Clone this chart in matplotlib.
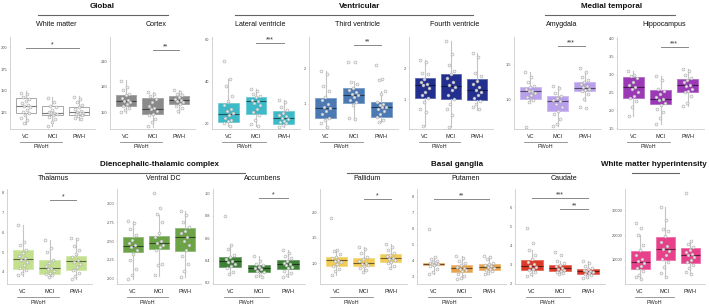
import numpy as np
import matplotlib
matplotlib.use("Agg")
import matplotlib.pyplot as plt
from matplotlib.colors import to_rgb

plt.rcParams['font.family'] = ['Liberation Sans', 'DejaVu Sans']

W, H = 709, 304
groups = ['VC', 'MCI', 'PWH']

# box stats per group: [whislo, q1, med, q3, whishi]
wm_box = [[112, 124.7, 133, 142, 150], [109, 121.6, 124.7, 133, 142.7], [116, 121.6, 126, 131, 143.5]]
wm_pts = [[148, 146, 143, 141, 138, 136, 134, 133, 131, 128, 126, 125, 122, 119, 116, 113],
          [142, 137, 133, 131, 128, 126, 125, 124, 123, 122, 120, 117, 114, 110],
          [143, 140, 137, 134, 131, 129, 127, 126, 125, 124, 123, 122, 121, 119, 117]]

cx_box = [[150, 158, 164, 171, 188], [133.5, 148.5, 154, 167, 174], [150, 159.5, 165, 169, 176]]
cx_pts = [[187, 180, 176, 172, 170, 167, 165, 164, 162, 160, 158, 156, 153, 151],
          [174, 172, 169, 166, 162, 158, 155, 154, 152, 149, 147, 143, 139, 134],
          [176, 174, 172, 170, 168, 166, 165, 164, 162, 160, 158, 155, 152]]

lv_box = [[19, 21, 24.8, 30, 41], [19, 24.8, 31, 32.9, 36.7], [18.6, 20, 22.9, 26.2, 31.4]]
lv_pts = [[49.5, 41, 38, 33, 31, 29, 27, 26, 25, 24, 23, 22, 21.5, 20.5, 19],
          [36.7, 35.5, 34, 33, 32.5, 31.5, 31, 30, 29, 27, 25.5, 24, 22, 20, 19],
          [31.4, 30.5, 28, 26.5, 25, 24, 23.5, 23, 22.5, 21.5, 21, 20.5, 19.5, 18.6]]

tv_box = [[0.32, 0.58, 0.88, 1.16, 1.94], [0.56, 1.02, 1.26, 1.45, 1.64], [0.47, 0.63, 0.9, 1.06, 1.37]]
tv_pts = [[1.94, 1.85, 1.5, 1.35, 1.2, 1.1, 1.0, 0.92, 0.88, 0.8, 0.7, 0.6, 0.55, 0.45, 0.35],
          [2.2, 2.18, 1.62, 1.55, 1.45, 1.4, 1.32, 1.28, 1.25, 1.2, 1.12, 1.05, 0.95, 0.6, 0.56],
          [2.1, 1.7, 1.68, 1.35, 1.28, 1.05, 1.0, 0.95, 0.92, 0.9, 0.85, 0.78, 0.7, 0.62, 0.55, 0.48]]

fv_box = [[0.16, 1.04, 1.45, 1.67, 2.26], [0.13, 1.0, 1.43, 1.8, 2.88], [0.65, 0.97, 1.31, 1.64, 2.5]]
fv_pts = [[2.26, 2.2, 1.85, 1.8, 1.65, 1.55, 1.5, 1.45, 1.35, 1.25, 1.15, 1.05, 0.9, 0.7, 0.6, 0.16],
          [2.88, 2.45, 2.1, 1.9, 1.8, 1.7, 1.55, 1.45, 1.4, 1.3, 1.15, 1.0, 0.85, 0.7, 0.5, 0.13],
          [2.5, 2.35, 1.85, 1.75, 1.6, 1.5, 1.4, 1.3, 1.25, 1.15, 1.05, 0.95, 0.85, 0.75, 0.7]]

am_box = [[0.97, 1.02, 1.13, 1.19, 1.39], [0.63, 0.85, 0.99, 1.05, 1.2], [0.99, 1.12, 1.17, 1.25, 1.4]]
am_pts = [[1.39, 1.33, 1.25, 1.2, 1.18, 1.15, 1.13, 1.12, 1.1, 1.07, 1.04, 1.0, 0.97, 0.62],
          [1.2, 1.17, 1.1, 1.05, 1.03, 1.0, 0.98, 0.95, 0.9, 0.85, 0.8, 0.73, 0.66, 0.63],
          [1.45, 1.4, 1.33, 1.28, 1.25, 1.22, 1.2, 1.18, 1.16, 1.14, 1.12, 1.08, 1.02, 0.9, 0.89]]

hc_box = [[1.84, 2.35, 2.65, 2.94, 3.09], [1.61, 2.17, 2.33, 2.58, 2.97], [2.12, 2.52, 2.7, 2.88, 3.16]]
hc_pts = [[3.09, 3.0, 2.97, 2.9, 2.8, 2.72, 2.65, 2.6, 2.5, 2.4, 2.35, 2.25, 2.1, 1.84],
          [2.97, 2.85, 2.6, 2.55, 2.45, 2.38, 2.33, 2.28, 2.2, 2.15, 2.05, 1.95, 1.8, 1.61],
          [3.16, 3.1, 3.0, 2.9, 2.85, 2.78, 2.72, 2.68, 2.6, 2.55, 2.5, 2.4, 2.2, 2.12]]

th_box = [[3.8, 4.14, 4.65, 5.08, 6.36], [3.74, 3.91, 4.19, 4.6, 5.62], [3.62, 4.1, 4.56, 4.82, 5.73]]
th_pts = [[6.36, 5.5, 5.35, 5.1, 4.95, 4.8, 4.7, 4.62, 4.5, 4.35, 4.2, 4.1, 3.95, 3.85],
          [5.6, 5.2, 5.0, 4.6, 4.45, 4.3, 4.2, 4.15, 4.05, 3.95, 3.9, 3.82, 3.75],
          [5.73, 5.65, 5.3, 5.1, 4.9, 4.75, 4.6, 4.5, 4.4, 4.25, 4.1, 3.95, 3.8, 3.65]]

vd_box = [[2.0, 2.35, 2.44, 2.56, 2.76], [2.04, 2.4, 2.48, 2.57, 2.84], [2.02, 2.37, 2.56, 2.67, 2.9]]
vd_pts = [[2.76, 2.74, 2.66, 2.58, 2.52, 2.48, 2.45, 2.42, 2.38, 2.33, 2.25, 2.13, 2.05, 2.0],
          [3.14, 2.94, 2.86, 2.75, 2.6, 2.55, 2.5, 2.48, 2.45, 2.42, 2.38, 2.2, 2.18, 2.05],
          [2.9, 2.85, 2.75, 2.68, 2.63, 2.6, 2.56, 2.5, 2.45, 2.38, 2.3, 2.2, 2.1, 2.02]]

ac_box = [[0.27, 0.34, 0.4, 0.434, 0.54], [0.25, 0.3, 0.33, 0.36, 0.44], [0.25, 0.324, 0.366, 0.404, 0.49]]
ac_pts = [[0.8, 0.54, 0.5, 0.45, 0.43, 0.41, 0.4, 0.39, 0.37, 0.35, 0.33, 0.3, 0.28],
          [0.44, 0.4, 0.37, 0.36, 0.34, 0.33, 0.32, 0.31, 0.3, 0.28, 0.26, 0.25],
          [0.49, 0.47, 0.44, 0.42, 0.4, 0.38, 0.37, 0.36, 0.34, 0.33, 0.31, 0.29, 0.27, 0.25]]

pa_box = [[0.78, 0.96, 1.06, 1.12, 1.27], [0.83, 0.95, 1.01, 1.11, 1.32], [0.92, 1.03, 1.11, 1.18, 1.37]]
pa_pts = [[1.89, 1.27, 1.24, 1.18, 1.13, 1.1, 1.07, 1.05, 1.02, 0.98, 0.95, 0.9, 0.85, 0.78],
          [1.32, 1.28, 1.2, 1.12, 1.08, 1.04, 1.01, 0.99, 0.97, 0.95, 0.92, 0.88, 0.83],
          [1.37, 1.33, 1.27, 1.2, 1.16, 1.14, 1.11, 1.09, 1.06, 1.03, 1.0, 0.96, 0.92]]

pu_box = [[3.17, 3.76, 3.84, 3.9, 4.22], [2.85, 3.34, 3.55, 3.76, 4.33], [3.17, 3.44, 3.63, 3.8, 4.33]]
pu_pts = [[5.97, 4.22, 4.1, 4.0, 3.92, 3.88, 3.85, 3.83, 3.8, 3.77, 3.7, 3.5, 3.3, 3.17],
          [4.33, 4.2, 4.0, 3.85, 3.75, 3.65, 3.58, 3.52, 3.45, 3.35, 3.2, 3.05, 2.95, 2.85],
          [4.33, 4.25, 4.1, 3.9, 3.8, 3.72, 3.66, 3.6, 3.55, 3.5, 3.45, 3.35, 3.25, 3.17]]

ca_box = [[2.37, 2.69, 2.9, 3.21, 3.74], [2.46, 2.64, 2.78, 2.94, 3.17], [2.25, 2.5, 2.64, 2.73, 3.17]]
ca_pts = [[4.92, 4.1, 3.74, 3.5, 3.25, 3.1, 3.0, 2.9, 2.85, 2.75, 2.7, 2.6, 2.5, 2.37],
          [3.62, 3.5, 3.15, 3.05, 2.95, 2.88, 2.8, 2.76, 2.7, 2.66, 2.6, 2.52, 2.46],
          [3.17, 3.05, 2.9, 2.78, 2.72, 2.68, 2.65, 2.62, 2.58, 2.52, 2.48, 2.4, 2.3, 2.25]]

wh_box = [[2100, 6200, 9180, 13670, 20200], [3060, 9880, 14370, 19100, 31300], [4160, 8650, 11920, 14770, 17750]]
wh_pts = [[25000, 23000, 20200, 16000, 13800, 12000, 10500, 9500, 8800, 7500, 6500, 5500, 4000, 3000, 2100],
          [31300, 26000, 22500, 21500, 19500, 17000, 15500, 14500, 13500, 12000, 10500, 9000, 7000, 4500, 3060],
          [37050, 17750, 16500, 15000, 14000, 13000, 12200, 11800, 11000, 10000, 9000, 8000, 6500, 5000, 4160]]


def mix(c, other, t):
    a = np.array(to_rgb(c)); b = np.array(to_rgb(other))
    return tuple(a * (1 - t) + b * t)


def px2fig(x0, y0, x1, y1):
    return [x0 / W, 1 - y1 / H, (x1 - x0) / W, (y1 - y0) / H]


fig = plt.figure(figsize=(W / 100, H / 100), dpi=100)


def panel(rect, box, pts, color, ylim, yticks, ylabels, title, sigs, edge=None, med=None, tpad=13):
    x0, y0, x1, y1 = rect
    ax = fig.add_axes(px2fig(x0, y0, x1, y1))
    stats = [dict(whislo=b[0], q1=b[1], med=b[2], q3=b[3], whishi=b[4], fliers=[]) for b in box]
    if edge is None:
        edge = mix(color, 'white', 0.25)
    if med is None:
        med = mix(color, 'black', 0.55)
    ax.bxp(stats, positions=[1, 2, 3], widths=0.76, patch_artist=True, showcaps=False,
           boxprops=dict(facecolor=color, edgecolor=edge, linewidth=0.6),
           whiskerprops=dict(color='#c4c4c4', linewidth=0.8),
           medianprops=dict(color=med, linewidth=0.8), zorder=2)
    for g, vals in enumerate(pts):
        n = len(vals)
        jit = np.array([((i * 0.618034) % 1 - 0.5) * 0.36 for i in range(n)])
        ax.scatter(g + 1 + jit, vals, s=4.5, facecolor='#f2f2f2', edgecolor='#a0a0a0',
                   linewidths=0.4, zorder=3, alpha=0.9)
    for xa, xb, yv, lab in sigs:
        ax.plot([xa, xb], [yv, yv], color='#888888', lw=0.7, clip_on=False)
        ax.text((xa + xb) / 2, yv, lab, ha='center', va='bottom', fontsize=5, color='#333333')
    ax.set_xlim(0.4, 3.6)
    ax.set_ylim(*ylim)
    ax.set_yticks(yticks)
    ax.set_yticklabels(ylabels, fontsize=2.9, color='#555555')
    ax.set_xticks([1, 2, 3])
    ax.set_xticklabels(groups, fontsize=4, color='#222222')
    ax.tick_params(axis='y', length=1, width=0.4, color='#cccccc', pad=1)
    ax.tick_params(axis='x', length=0, pad=3.5)
    for s in ['top', 'right']:
        ax.spines[s].set_visible(False)
    for s in ['left', 'bottom']:
        ax.spines[s].set_color('#cccccc')
        ax.spines[s].set_linewidth(0.6)
    ax.set_facecolor('none')
    # PWoH bracket under VC and MCI
    lx0 = x0 + (0.78 - 0.4) / 3.2 * (x1 - x0)
    lx1 = x0 + (2.35 - 0.4) / 3.2 * (x1 - x0)
    fig.add_artist(plt.Line2D([lx0 / W, lx1 / W], [1 - (y1 + 13) / H] * 2,
                              color='#888888', lw=0.6))
    fig.text((lx0 + lx1) / 2 / W, 1 - (y1 + 18) / H, 'PWoH', ha='center', va='center',
             fontsize=3.9, color='#222222')
    fig.text((x0 + x1) / 2 / W + 4 / W, 1 - (y0 - tpad) / H, title, ha='center', va='center',
             fontsize=5.1, color='#111111')
    return ax


def group(title, xc, yt, la, lb, yl):
    fig.text(xc / W, 1 - yt / H, title, ha='center', va='center', fontsize=5.8,
             fontweight='bold', color='#111111')
    fig.add_artist(plt.Line2D([la / W, lb / W], [1 - yl / H] * 2, color='#666666', lw=0.8))


T0, T1 = 37, 129
B0, B1 = 189, 284

panel((10, T0, 95, T1), wm_box, wm_pts, 'white', (106, 212), [125, 150, 175, 200],
      ['125', '150', '175', '200'], 'White matter', [(1, 3, 199, '*')], edge='#9a9a9a', med='#777777')
panel((110, T0, 195, T1), cx_box, cx_pts, '#8a8a8a', (131, 238), [150, 180, 210],
      ['150', '180', '210'], 'Cortex', [(2, 3, 223, '**')], edge='#a0a0a0', med='#444444')
panel((212, T0, 300, T1), lv_box, lv_pts, '#3dbac8', (17.6, 61), [20, 40, 60],
      ['20', '40', '60'], 'Lateral ventricle', [(2, 3, 58, '***')])
panel((309, T0, 398, T1), tv_box, tv_pts, '#4a79b4', (0.28, 2.9), [1, 2],
      ['1', '2'], 'Third ventricle', [(2, 3, 2.66, '**')])
panel((409, T0, 493, T1), fv_box, fv_pts, '#232f8f', (0.05, 3.0), [1, 2],
      ['1', '2'], 'Fourth ventricle', [], edge='#5a66b0', med='#101850')
panel((514, T0, 601, T1), am_box, am_pts, '#b9a0ec', (0.59, 1.89), [1.0, 1.5],
      ['1.0', '1.5'], 'Amygdala', [(2, 3, 1.76, '***')])
panel((617, T0, 704, T1), hc_box, hc_pts, '#9a38b6', (1.48, 4.05), [1.5, 2.0, 2.5, 3.0, 3.5, 4.0],
      ['1.5', '2.0', '2.5', '3.0', '3.5', '4.0'], 'Hippocampus', [(2, 3, 3.77, '***')])

panel((7, B0, 92, B1), th_box, th_pts, '#c3e08f', (3.38, 8.2), [4, 5, 6, 7, 8],
      ['4', '5', '6', '7', '8'], 'Thalamus', [(2, 3, 7.64, '*')], tpad=10)
panel((117, B0, 201, B1), vd_box, vd_pts, '#6ba346', (1.93, 3.19), [2.0, 2.25, 2.5, 2.75, 3.0],
      ['2.00', '2.25', '2.50', '2.75', '3.00'], 'Ventral DC', [], tpad=10)
panel((213, B0, 305, B1), ac_box, ac_pts, '#3f8037', (0.19, 1.04), [0.2, 0.4, 0.6, 0.8, 1.0],
      ['0.2', '0.4', '0.6', '0.8', '1.0'], 'Accumbens', [(2, 3, 0.96, '*')], tpad=10)
panel((320, B0, 407, B1), pa_box, pa_pts, '#f2cc55', (0.6, 2.45), [1.0, 1.5, 2.0],
      ['1.0', '1.5', '2.0'], 'Pallidum', [(2, 3, 2.25, '*')], tpad=10)
panel((417, B0, 506, B1), pu_box, pu_pts, '#e8a34d', (2.56, 8.5), [3, 4, 5, 6, 7, 8],
      ['3', '4', '5', '6', '7', '8'], 'Putamen', [(1, 3, 7.87, '**')], tpad=10)
panel((515, B0, 605, B1), ca_box, ca_pts, '#dc3a28', (1.95, 6.96), [2, 3, 4, 5, 6],
      ['2', '3', '4', '5', '6'], 'Caudate', [(1, 3, 6.46, '***'), (2, 3, 5.88, '**')], tpad=10)
panel((625, B0, 705, B1), wh_box, wh_pts, '#e8408a', (200, 38600), [10000, 20000, 30000],
      ['10000', '20000', '30000'], '', [], tpad=10)

group('Global', 102, 6, 38, 168, 15)
group('Ventricular', 360, 6, 235, 473, 15)
group('Medial temporal', 612, 6, 545, 675, 15)
group('Diencephalic-thalamic complex', 159, 164, 45, 245, 173)
group('Basal ganglia', 457, 164, 347, 570, 173)
group('White matter hyperintensity', 654, 165, 632, 679, 173)

fig.savefig('out.png', dpi=100)
